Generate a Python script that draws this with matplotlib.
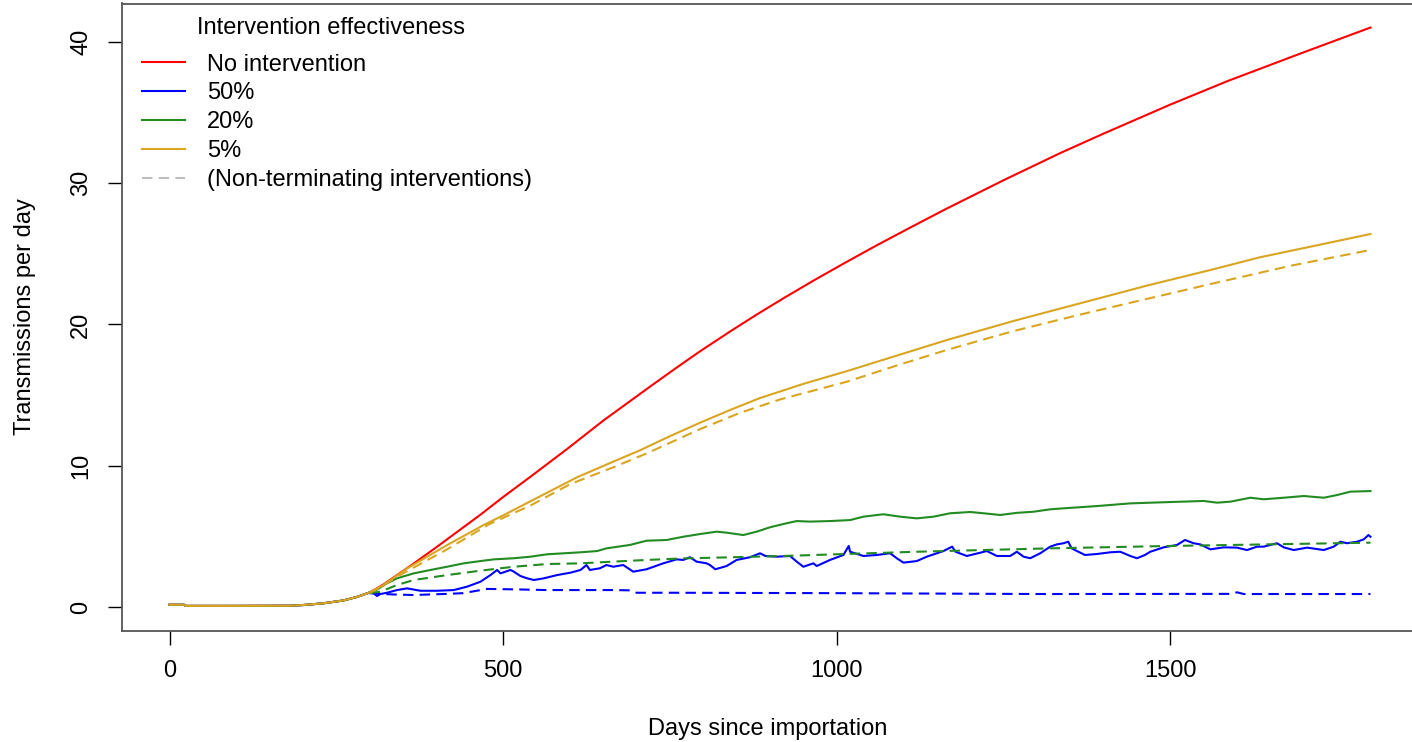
import matplotlib
matplotlib.use("Agg")
import matplotlib.pyplot as plt
from matplotlib.lines import Line2D

plt.rcParams["font.family"] = ["Liberation Sans", "DejaVu Sans"]

# shared pre-intervention segment (all scenarios identical before ~day 300)
EARLY_DAYS = [0, 22, 24, 100, 180, 200, 230, 260, 280, 300]
EARLY_VALS = [0.18, 0.18, 0.10, 0.10, 0.11, 0.16, 0.28, 0.48, 0.72, 1.05]

RED_DAYS = [320, 340, 366, 400, 433, 466, 500, 540, 596, 650, 720, 760, 795,
            840, 880, 920, 965, 1010, 1060, 1110, 1165, 1250, 1334, 1400,
            1500, 1585, 1700, 1800]
RED_VALS = [1.6, 2.25, 3.1, 4.25, 5.4, 6.55, 7.8, 9.2, 11.2, 13.2, 15.6, 16.95,
            18.1, 19.5, 20.7, 21.85, 23.1, 24.3, 25.6, 26.85, 28.2, 30.2, 32.1,
            33.5, 35.55, 37.2, 39.25, 41.0]

GOLD_DAYS = [320, 356, 416, 470, 500, 541, 611, 665, 705, 750, 795, 840, 885,
             950, 1015, 1090, 1165, 1265, 1365, 1465, 1564, 1634, 1720, 1800]
GOLD_VALS = [1.55, 2.75, 4.4, 5.8, 6.5, 7.5, 9.2, 10.3, 11.1, 12.1, 13.05,
             13.95, 14.8, 15.8, 16.7, 17.8, 18.9, 20.25, 21.5, 22.75, 23.9,
             24.75, 25.6, 26.4]
GOLD_NT_DAYS = [300, 350, 416, 480, 541, 600, 665, 716, 795, 855, 915, 1015,
                1090, 1165, 1262, 1362, 1464, 1564, 1680, 1800]
GOLD_NT_VALS = [1.0, 2.4, 4.1, 5.9, 7.2, 8.7, 9.9, 10.9, 12.6, 13.75, 14.7,
                15.95, 17.1, 18.2, 19.5, 20.67, 21.8, 22.9, 24.15, 25.27]

GREEN_DAYS = [311, 326, 341, 366, 391, 416, 441, 466, 486, 516, 541, 566, 591,
              616, 641, 655, 690, 715, 745, 770, 795, 820, 835, 860, 880, 900,
              920, 940, 960, 990, 1020, 1040, 1070, 1095, 1120, 1145, 1170,
              1200, 1220, 1245, 1270, 1295, 1320, 1340, 1390, 1440, 1490,
              1550, 1570, 1590, 1620, 1640, 1670, 1700, 1730, 1750, 1770, 1800]
GREEN_VALS = [1.25, 1.7, 2.05, 2.4, 2.64, 2.87, 3.11, 3.27, 3.39, 3.47, 3.58,
              3.75, 3.82, 3.89, 3.98, 4.17, 4.41, 4.71, 4.76, 4.99, 5.18, 5.35,
              5.28, 5.11, 5.35, 5.66, 5.89, 6.10, 6.06, 6.10, 6.17, 6.41, 6.58,
              6.41, 6.29, 6.41, 6.65, 6.74, 6.65, 6.53, 6.68, 6.76, 6.93, 7.00,
              7.16, 7.35, 7.43, 7.52, 7.40, 7.47, 7.75, 7.64, 7.75, 7.87, 7.75,
              7.94, 8.18, 8.22]
GREEN_NT_DAYS = [300, 316, 341, 366, 416, 466, 516, 566, 616, 665, 715, 765,
                 920, 1120, 1320, 1490, 1800]
GREEN_NT_VALS = [1.0, 1.1, 1.58, 1.93, 2.28, 2.59, 2.87, 3.06, 3.11, 3.23,
                 3.35, 3.45, 3.63, 3.93, 4.17, 4.33, 4.57]

BLUE_DAYS = [306, 311, 316, 326, 341, 356, 376, 401, 426, 446, 466, 481, 491,
             496, 511, 516, 526, 536, 546, 561, 581, 601, 616, 625, 630, 645,
             655, 665, 680, 695, 715, 740, 760, 770, 780, 790, 805, 810, 818,
             835, 850, 870, 885, 893, 910, 930, 940, 950, 965, 970, 990, 1010,
             1018, 1020, 1040, 1060, 1080, 1090, 1100, 1120, 1135, 1150, 1160,
             1173, 1178, 1195, 1215, 1225, 1240, 1260, 1270, 1280, 1290, 1305,
             1320, 1330, 1340, 1347, 1352, 1372, 1390, 1410, 1425, 1440, 1450,
             1462, 1470, 1490, 1510, 1522, 1535, 1545, 1560, 1580, 1600, 1615,
             1630, 1640, 1660, 1670, 1685, 1705, 1720, 1730, 1745, 1755, 1765,
             1780, 1790, 1797, 1800]
BLUE_VALS = [0.99, 0.80, 0.94, 1.03, 1.22, 1.34, 1.17, 1.17, 1.22, 1.46, 1.81,
             2.28, 2.64, 2.40, 2.64, 2.52, 2.21, 2.05, 1.93, 2.05, 2.28, 2.45,
             2.64, 2.99, 2.64, 2.76, 2.99, 2.87, 2.99, 2.52, 2.69, 3.11, 3.39,
             3.35, 3.54, 3.23, 3.11, 2.99, 2.69, 2.92, 3.35, 3.54, 3.82, 3.63,
             3.58, 3.63, 3.23, 2.87, 3.11, 2.92, 3.35, 3.70, 4.34, 3.93, 3.63,
             3.70, 3.82, 3.47, 3.16, 3.27, 3.58, 3.82, 3.98, 4.29, 3.93, 3.63,
             3.86, 3.98, 3.63, 3.63, 3.93, 3.58, 3.47, 3.82, 4.29, 4.45, 4.53,
             4.64, 4.17, 3.70, 3.77, 3.89, 3.93, 3.63, 3.47, 3.70, 3.93, 4.24,
             4.41, 4.76, 4.53, 4.45, 4.10, 4.24, 4.22, 4.05, 4.29, 4.29, 4.53,
             4.24, 4.05, 4.22, 4.12, 4.05, 4.29, 4.64, 4.53, 4.64, 4.81, 5.11,
             4.99]
BLUE_NT_DAYS = [300, 316, 340, 366, 416, 440, 476, 516, 566, 616, 665, 690,
                700, 750, 1000, 1300, 1590, 1600, 1610, 1800]
BLUE_NT_VALS = [1.0, 0.95, 0.9, 0.87, 0.95, 1.0, 1.3, 1.27, 1.22, 1.22, 1.22,
                1.2, 1.03, 1.03, 1.0, 0.94, 0.95, 1.06, 0.94, 0.94]

COLORS = {"red": "#ff0000", "blue": "#0000ff", "green": "#228b22",
          "gold": "#daa520"}
LW = 1.5
DASH = (5, 3)
FS = 17

fig = plt.figure(figsize=(14.12, 7.42), dpi=100)
ax = fig.add_axes([121.5 / 1412, (742 - 630.5) / 742, 1297 / 1412, 627 / 742])

solid = [(RED_DAYS, RED_VALS, "red"), (BLUE_DAYS, BLUE_VALS, "blue"),
         (GREEN_DAYS, GREEN_VALS, "green"), (GOLD_DAYS, GOLD_VALS, "gold")]
for days, vals, c in solid:
    ax.plot(EARLY_DAYS + days, EARLY_VALS + vals, color=COLORS[c], lw=LW)

dashed = [(BLUE_NT_DAYS, BLUE_NT_VALS, "blue"),
          (GREEN_NT_DAYS, GREEN_NT_VALS, "green"),
          (GOLD_NT_DAYS, GOLD_NT_VALS, "gold")]
for days, vals, c in dashed:
    ax.plot(days, vals, color=COLORS[c], lw=LW, linestyle=(0, DASH))

ax.set_xlim(-72, 1872)
ax.set_ylim(-1.64, 42.7)
ax.set_xticks([0, 500, 1000, 1500])
ax.set_yticks([0, 10, 20, 30, 40])
ax.set_yticklabels(["0", "10", "20", "30", "40"], rotation=90, va="center")
ax.tick_params(length=10, width=1, labelsize=FS, pad=11, colors="black")
for sp in ax.spines.values():
    sp.set_color("#555555")
    sp.set_linewidth(1.3)

ax.set_xlabel("Days since importation", fontsize=FS)
ax.set_ylabel("Transmissions per day", fontsize=FS)
ax.xaxis.set_label_coords(0.4985, -0.14)
ax.yaxis.set_label_coords(-0.0663, 0.5)

handles = [Line2D([], [], color=COLORS[c], lw=LW) for c in
           ["red", "blue", "green", "gold"]]
handles.append(Line2D([], [], color="#bebebe", lw=LW, linestyle=(0, DASH)))
labels = ["No intervention", "50%", "20%", "5%", "(Non-terminating interventions)"]
ax.legend(handles, labels, loc="upper left", bbox_to_anchor=(0.0158, 0.9202),
          frameon=False, fontsize=FS, borderaxespad=0, borderpad=0,
          handlelength=1.82, handletextpad=0.93, labelspacing=0.29)
ax.text(0.1615, 0.961, "Intervention effectiveness", transform=ax.transAxes,
        ha="center", va="center", fontsize=FS)

fig.savefig("out.png", dpi=100)
